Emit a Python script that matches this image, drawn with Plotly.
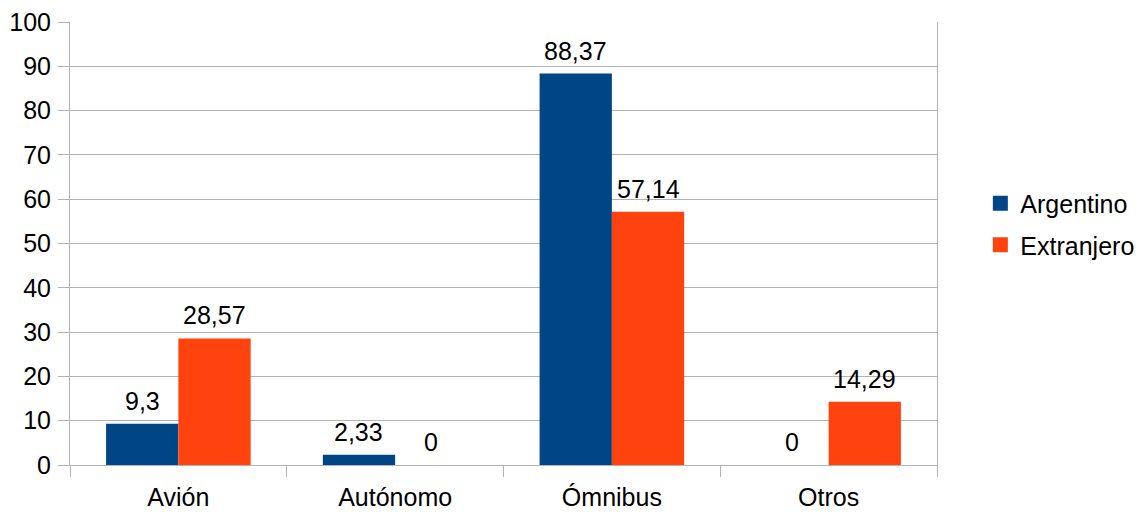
import plotly.graph_objects as go

categories = ["Avión", "Autónomo", "Ómnibus", "Otros"]
argentino = [9.3, 2.33, 88.37, 0]
extranjero = [28.57, 0, 57.14, 14.29]
argentino_labels = ["9,3", "2,33", "88,37", "0"]
extranjero_labels = ["28,57", "0", "57,14", "14,29"]
y_ticks = [0, 10, 20, 30, 40, 50, 60, 70, 80, 90, 100]

FONT = "Liberation Sans, Arial, sans-serif"
fs = 25
W, H = 1137, 507
ML, MR, MT, MB = 62, 208, 14, 50
plot_w = W - ML - MR
bargap = 0.333
bar_px = plot_w / len(categories) * (1 - bargap) / 2

BLUE, ORANGE = "#004586", "#ff420e"

fig = go.Figure()
fig.add_trace(go.Bar(x=categories, y=argentino, name="Argentino", showlegend=False,
                     legendgroup="a",
                     marker=dict(color=BLUE, line=dict(width=0))))
fig.add_trace(go.Bar(x=categories, y=extranjero, name="Extranjero", showlegend=False,
                     legendgroup="b",
                     marker=dict(color=ORANGE, line=dict(width=0))))
# legend entries with larger square swatches
for name, col, grp in (("Argentino", BLUE, "a"), ("Extranjero", ORANGE, "b")):
    fig.add_trace(go.Scatter(x=[None], y=[None], mode="markers", name=name,
                             legendgroup=grp,
                             marker=dict(symbol="square", size=15, color=col,
                                         line=dict(width=0))))

for vals, labels, shift in ((argentino, argentino_labels, -bar_px / 2),
                            (extranjero, extranjero_labels, bar_px / 2)):
    for c, v, t in zip(categories, vals, labels):
        fig.add_annotation(x=c, y=v, xref="x", yref="y", text=t, showarrow=False,
                           xanchor="center", yanchor="bottom", xshift=shift, yshift=7,
                           font=dict(size=fs, color="#000000", family=FONT))

fig.update_layout(
    width=W, height=H,
    margin=dict(l=ML, r=MR, t=MT, b=MB, autoexpand=False),
    paper_bgcolor="white", plot_bgcolor="white",
    font=dict(family=FONT, size=fs, color="#000000"),
    barmode="group", bargap=bargap, bargroupgap=0,
    showlegend=True,
    legend=dict(x=1.05, y=0.544, xanchor="left", yanchor="middle",
                font=dict(size=fs), itemwidth=30, tracegroupgap=6,
                traceorder="grouped", bgcolor="rgba(0,0,0,0)"),
)
fig.update_xaxes(showline=True, linecolor="#b3b3b3", linewidth=1,
                 ticks="outside", tickson="boundaries", ticklen=11,
                 tickcolor="#b3b3b3", showgrid=False, ticklabelstandoff=10,
                 tickfont=dict(size=fs), zeroline=False)
fig.update_yaxes(range=[0, 100], tickvals=y_ticks, showgrid=True,
                 gridcolor="#b3b3b3", gridwidth=1,
                 showline=True, linecolor="#b3b3b3", linewidth=1, mirror=True,
                 ticks="outside", ticklen=11, tickcolor="#b3b3b3",
                 ticklabelstandoff=2, ticklabeloverflow="allow",
                 tickfont=dict(size=fs), zeroline=False)

fig.write_html("out.html")
